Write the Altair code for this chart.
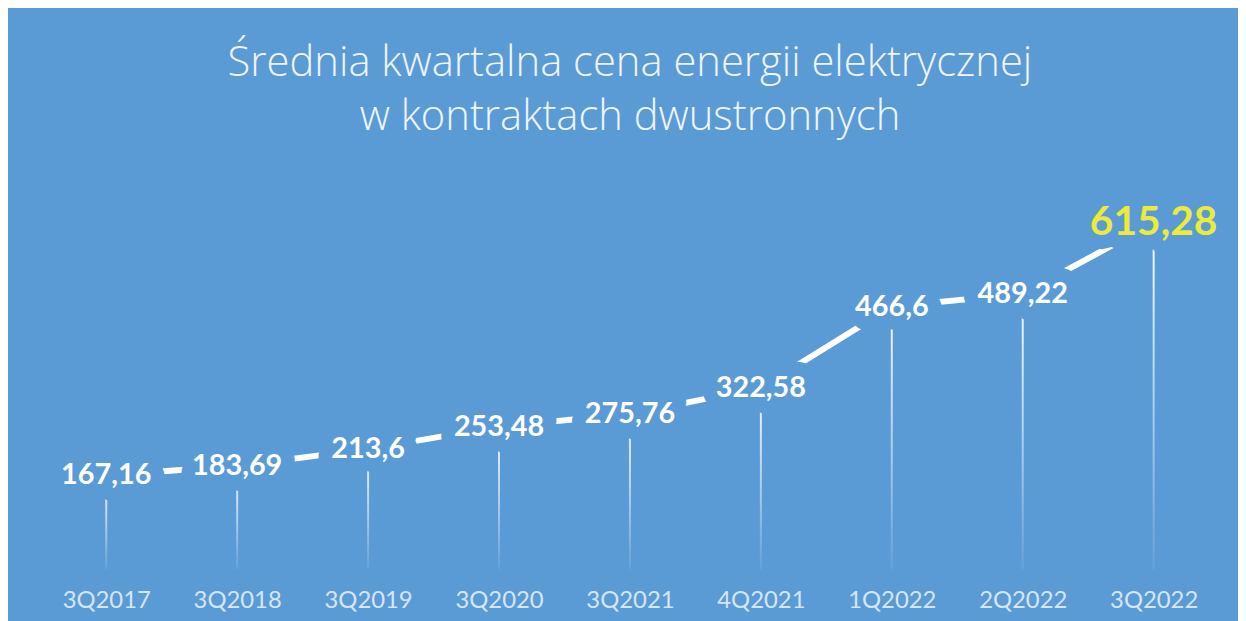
import altair as alt
import pandas as pd

quarters = ["3Q2017", "3Q2018", "3Q2019", "3Q2020", "3Q2021", "4Q2021", "1Q2022", "2Q2022", "3Q2022"]
prices = [167.16, 183.69, 213.6, 253.48, 275.76, 322.58, 466.6, 489.22, 615.28]
price_labels = ["167,16", "183,69", "213,6", "253,48", "275,76", "322,58", "466,6", "489,22", "615,28"]
title_lines = ["Średnia kwartalna cena energii elektrycznej", "w kontraktach dwustronnych"]

BLUE = "#5b9bd5"
YELLOW = "#ecea3a"
FONT = "Lato"
TITLE_FONT = "Open Sans"

df = pd.DataFrame({"q": quarters, "v": prices, "lab": price_labels})
df["last"] = df["q"] == quarters[-1]

W, H = 1186, 425

x = alt.X("q:N", sort=quarters, scale=alt.Scale(type="point", padding=0.5),
          axis=alt.Axis(title=None, labelAngle=0, domain=False, ticks=False, grid=False,
                        labelPadding=19, labelFont=FONT, labelFontSize=24,
                        labelColor="#d6e5f5"))
y = alt.Y("v:Q", scale=alt.Scale(domain=[0, 750], nice=False, zero=True), axis=None)

base = alt.Chart(df).encode(x=x, y=y)

grad = alt.LinearGradient(
    gradient="linear", x1=0, x2=0, y1=0, y2=1,
    stops=[alt.GradientStop(color="rgba(255,255,255,0.95)", offset=0),
           alt.GradientStop(color="rgba(255,255,255,0.45)", offset=0.6),
           alt.GradientStop(color="rgba(255,255,255,0.06)", offset=1)])

drops = base.mark_bar(size=2, color=grad).encode(y2=alt.value(H - 11))

line = base.mark_line(color="white", strokeWidth=6, strokeCap="butt")

is_last = alt.datum.last
size_enc = alt.condition(is_last, alt.value(41), alt.value(29))

halo = base.mark_text(font=FONT, fontWeight="bold", fill=BLUE, stroke=BLUE,
                      strokeWidth=28, strokeJoin="round", baseline="middle").encode(
    text="lab:N", size=size_enc)

labels = base.mark_text(font=FONT, fontWeight="bold", baseline="middle").encode(
    text="lab:N", size=size_enc,
    color=alt.condition(is_last, alt.value(YELLOW), alt.value("white")))

chart = alt.layer(drops, line, halo, labels).properties(
    width=W, height=H,
    title=alt.TitleParams(text=title_lines, font=TITLE_FONT, fontSize=42, fontWeight=300,
                          color="#eef5fc", lineHeight=55, offset=8, anchor="middle"),
    background=BLUE,
    padding={"left": 33, "top": 138, "right": 19, "bottom": 50},
    autosize=alt.AutoSizeParams(type="none"),
).configure_view(stroke=None)

chart.save("out.html", embed_options={"renderer": "svg", "actions": False})
